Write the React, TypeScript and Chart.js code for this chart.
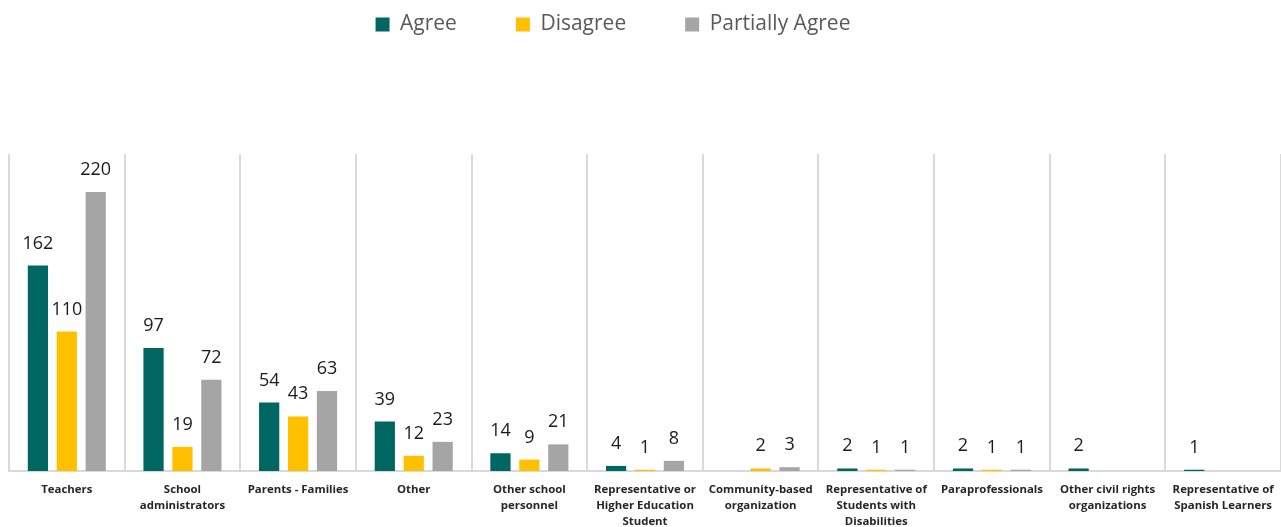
import React, { useEffect, useRef } from "react";
import { Chart, registerables } from "chart.js";

Chart.register(...registerables);

const categories: (string | string[])[] = [
  "Teachers",
  ["School", "administrators"],
  "Parents - Families",
  "Other",
  ["Other school", "personnel"],
  ["Representative or", "Higher Education", "Student"],
  ["Community-based", "organization"],
  ["Representative of", "Students with", "Disabilities"],
  "Paraprofessionals",
  ["Other civil rights", "organizations"],
  ["Representative of", "Spanish Learners"],
];

const seriesNames = ["Agree", "Disagree", "Partially Agree"];
const agree: (number | null)[] = [162, 97, 54, 39, 14, 4, null, 2, 2, 2, 1];
const disagree: (number | null)[] = [110, 19, 43, 12, 9, 1, 2, 1, 1, null, null];
const partiallyAgree: (number | null)[] = [220, 72, 63, 23, 21, 8, 3, 1, 1, null, null];
const yMax = 250;

const seriesColors = ["#006661", "#FFC000", "#A5A5A5"];

const valueLabels = {
  id: "valueLabels",
  afterDatasetsDraw(chart: any) {
    const ctx = chart.ctx;
    ctx.save();
    ctx.font = "18px 'Open Sans'";
    ctx.fillStyle = "#1a1a1a";
    ctx.textAlign = "center";
    ctx.textBaseline = "alphabetic";
    chart.data.datasets.forEach((ds: any, i: number) => {
      const meta = chart.getDatasetMeta(i);
      meta.data.forEach((el: any, j: number) => {
        const v = ds.data[j];
        if (v == null || v === 0) return;
        ctx.fillText(String(v), el.x, el.y - 17);
      });
    });
    ctx.restore();
  },
};

const legendShift = {
  id: "legendShift",
  afterLayout(chart: any) {
    const lg = chart.legend;
    if (!lg) return;
    lg.left -= 35;
    lg.right -= 35;
    lg.top -= 109;
    lg.bottom -= 109;
  },
};

export default function App() {
  const ref = useRef<HTMLCanvasElement>(null);

  useEffect(() => {
    const data = [agree, disagree, partiallyAgree];
    const chart = new Chart(ref.current as HTMLCanvasElement, {
      type: "bar",
      data: {
        labels: categories,
        datasets: seriesNames.map((name, i) => ({
          label: name,
          data: data[i],
          backgroundColor: seriesColors[i],
          borderWidth: 0,
          barPercentage: 0.7,
          categoryPercentage: 0.75,
        })),
      },
      options: {
        animation: false,
        responsive: false,
        layout: { padding: { top: 64, left: 9, right: -6, bottom: -14 } },
        plugins: {
          legend: {
            position: "top",
            labels: {
              boxWidth: 14,
              boxHeight: 14,
              padding: 59,
              color: "#595959",
              font: { family: "'Open Sans'", size: 21 },
            },
          },
          tooltip: { enabled: false },
        },
        scales: {
          x: {
            offset: true,
            afterFit(scale: any) {
              scale.paddingLeft = 0;
              scale.paddingRight = 0;
            },
            grid: { color: "#d9d9d9", lineWidth: 2, drawTicks: false, offset: true },
            border: { color: "#d9d9d9", width: 2 },
            ticks: {
              autoSkip: false,
              maxRotation: 0,
              minRotation: 0,
              padding: 11,
              color: "#262626",
              font: { family: "'Open Sans'", size: 11.4, weight: "bold", lineHeight: 1.4035 },
            },
          },
          y: { display: false, min: 0, max: yMax },
        },
      },
      plugins: [valueLabels, legendShift],
    } as any);
    return () => chart.destroy();
  }, []);

  return (
    <div style={{ position: "fixed", left: 0, top: 0, width: 1281, height: 527, background: "#fff" }}>
      <canvas ref={ref} width={1281} height={527} style={{ display: "block" }} />
    </div>
  );
}
